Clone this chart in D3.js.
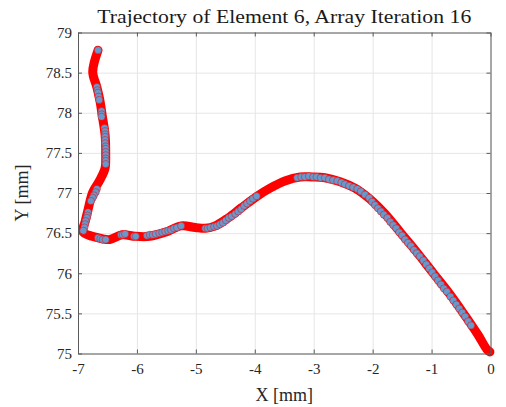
<!DOCTYPE html>
<html>
<head>
<meta charset="utf-8">
<script src="https://cdn.jsdelivr.net/npm/d3@7"></script>
<style>
  body { margin: 0; background: #fff; }
  .axis path, .axis line { stroke: #5a5a5a; }
  .grid line { stroke: #e6e6e6; }
  .grid path { display: none; }
</style>
</head>
<body>
<div id="chart"></div>
<script>
// tick values
var xTicks = [-7, -6, -5, -4, -3, -2, -1, 0];
var yTicks = [75, 75.5, 76, 76.5, 77, 77.5, 78, 78.5, 79];

// path of the element (the thick red line)
var trajX = [-6.66, -6.75, -6.68, -6.63, -6.59, -6.54, -6.53, -6.54, -6.63, -6.75, -6.83, -6.88, -6.92,
    -6.76, -6.59, -6.46, -6.25, -6.03, -5.78, -5.52, -5.25, -5.01, -4.84, -4.67, -4.45, -4.22, -3.96,
    -3.74, -3.49, -3.23, -3.03, -2.81, -2.55, -2.30, -2.04, -1.79, -1.53, -1.28, -0.97, -0.68, -0.43,
    -0.21, -0.06, -0.01];
var trajY = [78.78, 78.51, 78.32, 78.16, 77.97, 77.72, 77.47, 77.31, 77.16, 77.01, 76.79, 76.64, 76.52,
    76.46, 76.43, 76.42, 76.48, 76.46, 76.46, 76.51, 76.59, 76.57, 76.56, 76.59, 76.69, 76.82, 76.96,
    77.06, 77.15, 77.20, 77.20, 77.19, 77.14, 77.06, 76.92, 76.74, 76.51, 76.29, 76.00, 75.73, 75.47,
    75.23, 75.05, 75.02];

// sampled positions (blue markers)
var markX = [-6.66,
    -6.68, -6.67, -6.66, -6.65, -6.64,
    -6.60, -6.60, -6.60,
    -6.55, -6.54, -6.54, -6.54, -6.54,
    -6.54, -6.53, -6.53, -6.53, -6.53, -6.53, -6.53, -6.53,
    -6.68, -6.70, -6.73, -6.75, -6.78,
    -6.83, -6.84, -6.85, -6.87, -6.88, -6.89, -6.91,
    -6.66, -6.62, -6.58, -6.53,
    -6.27, -6.24, -6.20,
    -6.05, -6.02,
    -5.83, -5.78, -5.73, -5.68, -5.62, -5.57, -5.52, -5.47, -5.42, -5.37, -5.32, -5.25,
    -4.84, -4.80, -4.75, -4.69, -4.64, -4.59, -4.54, -4.49, -4.44, -4.39, -4.33, -4.28, -4.23,
    -4.18, -4.13, -4.08, -4.03, -3.97,
    -3.28, -3.21, -3.15, -3.08, -3.01, -2.95, -2.88, -2.81, -2.74, -2.67, -2.60, -2.53, -2.47,
    -2.40, -2.33, -2.26, -2.20, -2.13, -2.06, -2.01, -1.96, -1.91, -1.86, -1.81, -1.75, -1.70,
    -1.65, -1.60, -1.55, -1.50, -1.45, -1.40, -1.35, -1.30, -1.25, -1.20, -1.14, -1.09, -1.04,
    -0.99, -0.94, -0.89, -0.84, -0.79, -0.74, -0.68, -0.63, -0.58, -0.53, -0.48, -0.43, -0.38, -0.33];
var markY = [78.78,
    78.32, 78.28, 78.25, 78.20, 78.16,
    78.02, 77.98, 77.95,
    77.81, 77.77, 77.73, 77.70, 77.66,
    77.62, 77.58, 77.55, 77.51, 77.47, 77.43, 77.40, 77.36,
    77.05, 77.01, 76.97, 76.94, 76.90,
    76.76, 76.72, 76.69, 76.65, 76.61, 76.57, 76.53,
    76.44, 76.43, 76.42, 76.42,
    76.48, 76.48, 76.49,
    76.46, 76.46,
    76.47, 76.48, 76.48, 76.49, 76.50, 76.51, 76.52, 76.53, 76.54, 76.56, 76.57, 76.59,
    76.56, 76.56, 76.57, 76.58, 76.59, 76.61, 76.63, 76.66, 76.69, 76.71, 76.74, 76.77, 76.80,
    76.84, 76.87, 76.90, 76.93, 76.96,
    77.19, 77.20, 77.20, 77.21, 77.20, 77.20, 77.19, 77.19, 77.17, 77.16, 77.15, 77.13, 77.11,
    77.09, 77.07, 77.05, 77.02, 76.98, 76.94, 76.89, 76.85, 76.81, 76.77, 76.73, 76.69, 76.64,
    76.60, 76.56, 76.51, 76.47, 76.42, 76.38, 76.34, 76.29, 76.25, 76.21, 76.16, 76.11, 76.06,
    76.01, 75.96, 75.91, 75.86, 75.81, 75.77, 75.71, 75.66, 75.61, 75.56, 75.51, 75.46, 75.40, 75.35];

var width = 506, height = 407;
var margin = {top: 32.5, right: 15.5, bottom: 53.5, left: 78};
var plotW = width - margin.left - margin.right;
var plotH = height - margin.top - margin.bottom;
var serif = "'Liberation Serif', 'Times New Roman', serif";

var svg = d3.select("#chart").append("svg")
    .attr("width", width)
    .attr("height", height)
    .style("font-family", serif);

var g = svg.append("g")
    .attr("transform", "translate(" + margin.left + "," + margin.top + ")");

var x = d3.scaleLinear().domain([-7, 0]).range([0, plotW]);
var y = d3.scaleLinear().domain([75, 79]).range([plotH, 0]);

// grid
g.append("g").attr("class", "grid")
    .attr("transform", "translate(0," + plotH + ")")
    .call(d3.axisBottom(x).tickValues(xTicks).tickSize(-plotH).tickFormat(""));
g.append("g").attr("class", "grid")
    .call(d3.axisLeft(y).tickValues(yTicks).tickSize(-plotW).tickFormat(""));

// trajectory line
var pts = trajX.map(function(d, i) { return [d, trajY[i]]; });
var line = d3.line()
    .x(function(d) { return x(d[0]); })
    .y(function(d) { return y(d[1]); })
    .curve(d3.curveCatmullRom.alpha(0.5));

g.append("path")
    .datum(pts)
    .attr("d", line)
    .attr("fill", "none")
    .attr("stroke", "#ff0000")
    .attr("stroke-width", 9)
    .attr("stroke-linecap", "round")
    .attr("stroke-linejoin", "round");

// markers
var marks = markX.map(function(d, i) { return [d, markY[i]]; });
g.selectAll("circle.mk")
    .data(marks)
    .enter().append("circle")
    .attr("class", "mk")
    .attr("cx", function(d) { return x(d[0]); })
    .attr("cy", function(d) { return y(d[1]); })
    .attr("r", 3.6)
    .attr("fill", "#6699cc")
    .attr("stroke", "#ff0000")
    .attr("stroke-opacity", 0.6)
    .attr("stroke-width", 0.8);

// axes (ticks point inward, box on)
function styleAxis(sel) {
    sel.selectAll("text")
        .style("font-family", serif)
        .style("font-size", "15px")
        .attr("fill", "#262626");
}
g.append("g").attr("class", "axis")
    .attr("transform", "translate(0," + plotH + ")")
    .call(d3.axisBottom(x).tickValues(xTicks).tickSizeInner(-4).tickSizeOuter(0).tickPadding(10)
        .tickFormat(function(d) { return String(d); }))
    .call(styleAxis);
g.append("g").attr("class", "axis")
    .call(d3.axisLeft(y).tickValues(yTicks).tickSizeInner(-4).tickSizeOuter(0).tickPadding(6)
        .tickFormat(function(d) { return String(d); }))
    .call(styleAxis);
g.append("g").attr("class", "axis")
    .call(d3.axisTop(x).tickValues(xTicks).tickSizeInner(-4).tickSizeOuter(0).tickFormat(""));
g.append("g").attr("class", "axis")
    .attr("transform", "translate(" + plotW + ",0)")
    .call(d3.axisRight(y).tickValues(yTicks).tickSizeInner(-4).tickSizeOuter(0).tickFormat(""));

// labels
svg.append("text")
    .attr("x", margin.left + plotW / 2)
    .attr("y", 23)
    .attr("text-anchor", "middle")
    .attr("font-size", 18)
    .attr("fill", "#1a1a1a")
    .attr("textLength", 374)
    .attr("lengthAdjust", "spacingAndGlyphs")
    .text("Trajectory of Element 6, Array Iteration 16");

svg.append("text")
    .attr("x", margin.left + plotW / 2)
    .attr("y", 401)
    .attr("text-anchor", "middle")
    .attr("font-size", 18)
    .attr("fill", "#262626")
    .text("X [mm]");

svg.append("text")
    .attr("transform", "translate(28," + (margin.top + plotH / 2) + ") rotate(-90)")
    .attr("text-anchor", "middle")
    .attr("font-size", 18)
    .attr("fill", "#262626")
    .text("Y [mm]");
</script>
</body>
</html>
